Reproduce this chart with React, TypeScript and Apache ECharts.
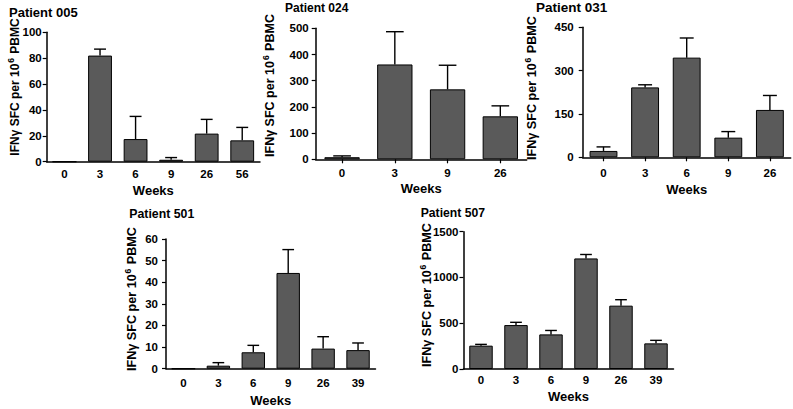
import React, { useEffect, useRef } from 'react';
import * as echarts from 'echarts';

// ---------- data ----------
const titles = ['Patient 005', 'Patient 024', 'Patient 031', 'Patient 501', 'Patient 507'];

const weeks005 = ['0', '3', '6', '9', '26', '56'];
const mean005 = [0, 82, 17.5, 1.5, 21.7, 16.5];
const sem005 = [0, 5, 17.5, 1.7, 11, 10];

const weeks024 = ['0', '3', '9', '26'];
const mean024 = [8, 362, 267, 164];
const sem024 = [5, 125, 92, 40];

const weeks031 = ['0', '3', '6', '9', '26'];
const mean031 = [22, 242, 345, 68, 164];
const sem031 = [14, 9, 68, 21, 50];

const weeks501 = ['0', '3', '6', '9', '26', '39'];
const mean501 = [0, 1.4, 7.6, 44.3, 9.3, 8.6];
const sem501 = [0, 1.4, 3.2, 10.8, 5.5, 3.3];

const weeks507 = ['0', '3', '6', '9', '26', '39'];
const mean507 = [255, 480, 378, 1208, 692, 280];
const sem507 = [14, 30, 43, 43, 65, 33];

const yMax = [100, 500, 450, 60, 1500];
const yStep = [20, 100, 150, 10, 500];

const yName = 'IFNγ SFC per 10';

// ---------- layout ----------
const layout = [
  { left: 46.7, top: 32.3, width: 213.3, height: 129.4, title: [9, 5.5, 13], nameX: 13.5, nameY: 87, nameFs: 12, xMargin: 6, nameGap: 22.5, yMargin: 5, xTick: false },
  { left: 315.7, top: 28.3, width: 211, height: 131, title: [285, 1.5, 12], nameX: 268.5, nameY: 85.5, nameFs: 12.5, xMargin: 8, nameGap: 22.5, yMargin: 7, xTick: true },
  { left: 582.7, top: 27.3, width: 208, height: 130, title: [536, 0.5, 13.5], nameX: 530.5, nameY: 88, nameFs: 12.6, xMargin: 10, nameGap: 26, yMargin: 9, xTick: true },
  { left: 166, top: 239, width: 209.5, height: 129.7, title: [129.3, 207.5, 12.3], nameX: 130.5, nameY: 299, nameFs: 12.6, xMargin: 8, nameGap: 25, yMargin: 8, xTick: false },
  { left: 463.5, top: 231.7, width: 210, height: 137.3, title: [420.7, 207, 12.2], nameX: 425.5, nameY: 295, nameFs: 12.6, xMargin: 5, nameGap: 21, yMargin: 5, xTick: false },
];

const FONT = '"Liberation Sans", Arial, Helvetica, sans-serif';

const panels = [
  { cats: weeks005, mean: mean005, sem: sem005 },
  { cats: weeks024, mean: mean024, sem: sem024 },
  { cats: weeks031, mean: mean031, sem: sem031 },
  { cats: weeks501, mean: mean501, sem: sem501 },
  { cats: weeks507, mean: mean507, sem: sem507 },
];

const BAR_FRAC = 0.67;

export default function App() {
  const ref = useRef<HTMLDivElement>(null);

  useEffect(() => {
    const chart = echarts.init(ref.current!, null, { renderer: 'svg' });

    const grid: any[] = [];
    const xAxis: any[] = [];
    const yAxis: any[] = [];
    const series: any[] = [];
    const title: any[] = [];
    const graphic: any[] = [];

    panels.forEach((p, i) => {
      const L = layout[i];
      grid.push({ left: L.left, top: L.top, width: L.width, height: L.height, containLabel: false });
      xAxis.push({
        type: 'category',
        gridIndex: i,
        data: p.cats,
        name: 'Weeks',
        nameLocation: 'middle',
        nameGap: L.nameGap,
        nameTextStyle: { fontFamily: FONT, fontWeight: 'bold', fontSize: 13, color: '#000' },
        axisLine: { lineStyle: { color: '#000', width: 1.5 } },
        axisTick: { show: L.xTick, alignWithLabel: true, length: 4, lineStyle: { color: '#000', width: 1.2 } },
        axisLabel: { fontFamily: FONT, fontWeight: 'bold', fontSize: 11.5, color: '#000', margin: L.xMargin },
        splitLine: { show: false },
      });
      yAxis.push({
        type: 'value',
        gridIndex: i,
        min: 0,
        max: yMax[i],
        interval: yStep[i],
        axisLine: { show: true, lineStyle: { color: '#000', width: 1.5 } },
        axisTick: { show: true, length: 4, lineStyle: { color: '#000', width: 1.2 } },
        axisLabel: {
          fontFamily: FONT,
          fontWeight: 'bold',
          fontSize: 11.5,
          color: '#000',
          margin: L.yMargin,
          formatter: (v: number) => String(v),
        },
        splitLine: { show: false },
      });
      series.push({
        type: 'bar',
        xAxisIndex: i,
        yAxisIndex: i,
        data: p.mean,
        barWidth: `${BAR_FRAC * 100}%`,
        itemStyle: { color: '#5a5a5a', borderColor: '#000', borderWidth: 1 },
        z: 2,
      });
      series.push({
        type: 'custom',
        xAxisIndex: i,
        yAxisIndex: i,
        data: p.mean.map((m, j) => [j, m, p.sem[j]]),
        encode: { x: 0, y: 1 },
        z: 3,
        renderItem: (params: any, api: any) => {
          const idx = api.value(0);
          const m = api.value(1);
          const e = api.value(2);
          if (!e) return null;
          const base = api.coord([idx, m]);
          const top = api.coord([idx, m + e]);
          const band = api.size([1, 0])[0];
          const half = (band * BAR_FRAC) / 4;
          const st = { stroke: '#000', lineWidth: 1.4 };
          return {
            type: 'group',
            children: [
              { type: 'line', shape: { x1: base[0], y1: base[1], x2: base[0], y2: top[1] }, style: st },
              { type: 'line', shape: { x1: base[0] - half, y1: top[1], x2: base[0] + half, y2: top[1] }, style: st },
            ],
          };
        },
      });
      title.push({
        text: titles[i],
        left: L.title[0],
        top: L.title[1],
        padding: 0,
        textStyle: { fontFamily: FONT, fontWeight: 'bold', fontSize: L.title[2], color: '#000' },
      });
      graphic.push({
        type: 'text',
        x: L.nameX,
        y: L.nameY,
        rotation: Math.PI / 2,
        style: {
          text: `{a|${yName}}{s|6}{a| PBMC}`,
          align: 'center',
          verticalAlign: 'middle',
          fill: '#000',
          rich: {
            a: { fontFamily: FONT, fontWeight: 'bold', fontSize: L.nameFs, fill: '#000', lineHeight: 15, verticalAlign: 'bottom' },
            s: { fontFamily: FONT, fontWeight: 'bold', fontSize: 8.5, fill: '#000', lineHeight: 15, verticalAlign: 'top', padding: [0, 1, 0, 1] },
          },
        },
      });
    });

    chart.setOption({
      animation: false,
      backgroundColor: '#fff',
      title,
      grid,
      xAxis,
      yAxis,
      series,
      graphic,
    });

    return () => chart.dispose();
  }, []);

  return (
    <div
      ref={ref}
      style={{ position: 'absolute', left: 0, top: 0, width: 793, height: 409, background: '#fff' }}
    />
  );
}
